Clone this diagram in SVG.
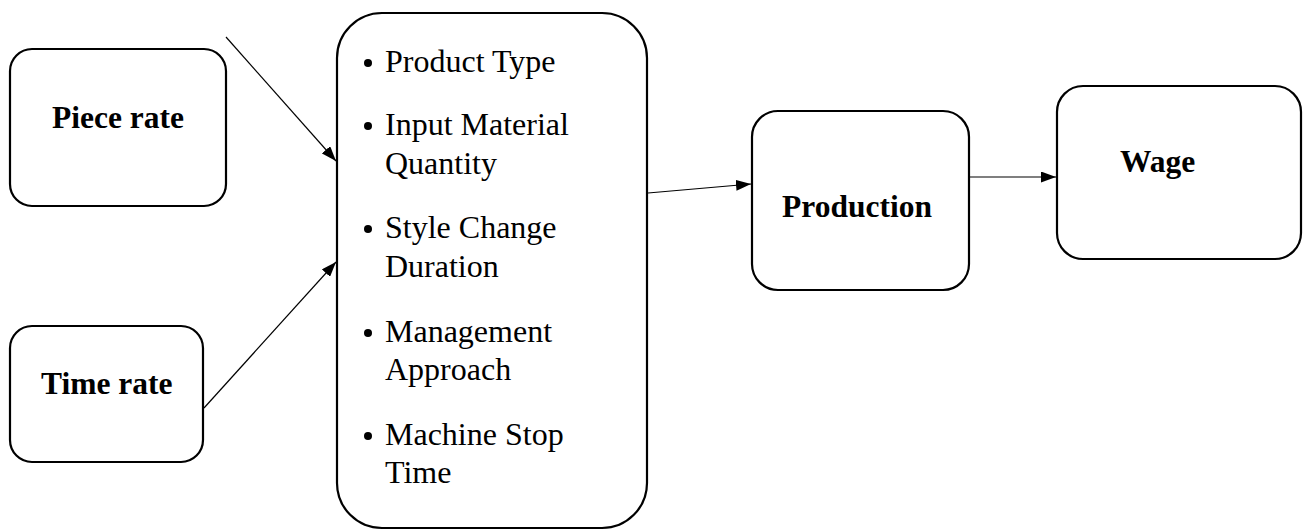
<svg xmlns="http://www.w3.org/2000/svg" width="1303" height="531" viewBox="0 0 1303 531">
<defs>
<marker id="ah" viewBox="0 0 15 11" refX="15" refY="5.5" markerWidth="15" markerHeight="11" markerUnits="userSpaceOnUse" orient="auto">
<path d="M0,0 L15,5.5 L0,11 Z" fill="#000"/>
</marker>
<style>
.box{fill:#fff;stroke:#000;stroke-width:2.2}
.lbl{font-family:"Liberation Serif","Times New Roman",serif;font-weight:bold;font-size:31.5px;fill:#000}
.item{font-family:"Liberation Serif","Times New Roman",serif;font-size:32px;fill:#000}
.conn{stroke:#000;stroke-width:1.2;fill:none;marker-end:url(#ah)}
</style>
</defs>
<rect width="1303" height="531" fill="#fff"/>
<g id="piece-rate">
<rect class="box" x="10" y="49" width="216" height="157" rx="22"/>
<text class="lbl" x="52" y="128">Piece rate</text>
</g>
<g id="time-rate">
<rect class="box" x="10" y="326" width="193" height="136" rx="22"/>
<text class="lbl" x="41" y="394">Time rate</text>
</g>
<g id="factors">
<rect class="box" x="337" y="13" width="310" height="515" rx="45"/>
<g fill="#000">
<circle cx="368" cy="63" r="4"/>
<circle cx="368" cy="126" r="4"/>
<circle cx="368" cy="229" r="4"/>
<circle cx="368" cy="333" r="4"/>
<circle cx="368" cy="436" r="4"/>
</g>
<text class="item" x="385" y="72">Product Type</text>
<text class="item" x="385" y="135">Input Material</text>
<text class="item" x="385" y="174">Quantity</text>
<text class="item" x="385" y="238">Style Change</text>
<text class="item" x="385" y="277">Duration</text>
<text class="item" x="385" y="342">Management</text>
<text class="item" x="385" y="380">Approach</text>
<text class="item" x="385" y="445">Machine Stop</text>
<text class="item" x="385" y="483">Time</text>
</g>
<g id="production">
<rect class="box" x="752" y="111" width="217" height="179" rx="26"/>
<text class="lbl" x="782" y="217">Production</text>
</g>
<g id="wage">
<rect class="box" x="1057" y="86" width="244" height="173" rx="26"/>
<text class="lbl" x="1120" y="172">Wage</text>
</g>
<g id="connectors">
<line class="conn" x1="226" y1="37" x2="336" y2="161"/>
<line class="conn" x1="204" y1="408" x2="336" y2="262"/>
<line class="conn" x1="648" y1="193" x2="751" y2="184"/>
<line class="conn" x1="969" y1="177" x2="1056" y2="177"/>
</g>
</svg>
